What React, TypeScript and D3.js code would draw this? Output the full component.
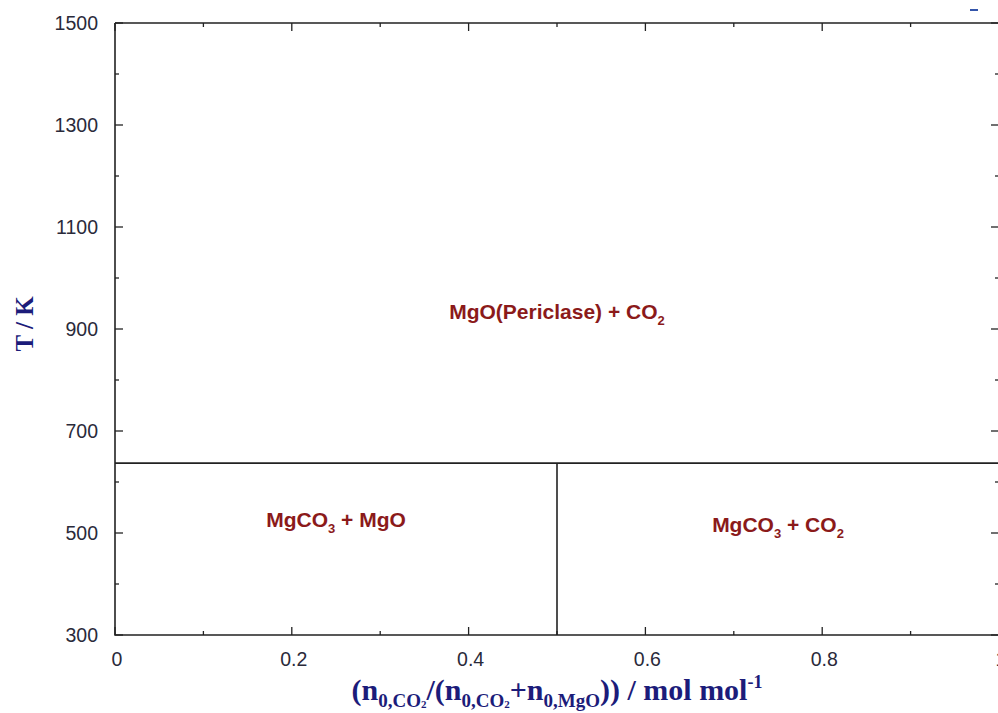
import React, { useEffect, useRef } from "react";
import * as d3 from "d3";

// phase boundaries
const xDomain = [0, 1];
const yDomain = [300, 1500];
const xMajor = [0, 0.2, 0.4, 0.6, 0.8, 1.0];
const xMinor = [0.1, 0.3, 0.5, 0.7, 0.9];
const yMajor = [300, 500, 700, 900, 1100, 1300, 1500];
const yMinor = [400, 600, 800, 1000, 1200, 1400];
const xTickLabels = ["0", "0.2", "0.4", "0.6", "0.8", "1"];
const decompT = 637;
const splitX = 0.5;
const regions = [
  { name: "MgO(Periclase) + CO", sub: "2", tail: "", x: 0.5, t: 934 },
  { name: "MgCO", sub: "3", tail: " + MgO", x: 0.25, t: 527 },
  { name: "MgCO", sub: "3", tail: " + CO", sub2: "2", x: 0.75, t: 516 },
];

export default function App() {
  const ref = useRef<SVGSVGElement | null>(null);

  useEffect(() => {
    const margin = { top: 23, left: 115 };
    const width = 884;
    const height = 612;
    const x = d3.scaleLinear().domain(xDomain).range([0, width]);
    const y = d3.scaleLinear().domain(yDomain).range([height, 0]);

    const svg = d3.select(ref.current);
    svg.selectAll("*").remove();
    const g = svg.append("g").attr("transform", `translate(${margin.left},${margin.top})`);

    // frame
    g.append("path")
      .attr("d", `M0,0 H${width} M0,0 V${height} H${width}`)
      .attr("stroke", "#222")
      .attr("stroke-width", 1.6)
      .attr("fill", "none");

    const tick = (x1: number, y1: number, x2: number, y2: number) =>
      g.append("line").attr("x1", x1).attr("y1", y1).attr("x2", x2).attr("y2", y2)
        .attr("stroke", "#222").attr("stroke-width", 1.3);

    yMajor.forEach(v => { tick(0, y(v), 8, y(v)); tick(width, y(v), width - 8, y(v)); });
    yMinor.forEach(v => { tick(0, y(v), 4, y(v)); tick(width, y(v), width - 4, y(v)); });
    xMajor.forEach(v => { tick(x(v), height, x(v), height - 8); tick(x(v), 0, x(v), 8); });
    xMinor.forEach(v => { tick(x(v), height, x(v), height - 4); tick(x(v), 0, x(v), 4); });

    // tick labels
    g.append("g").selectAll("text").data(yMajor).join("text")
      .attr("x", -17).attr("y", d => y(d)).attr("dy", "0.35em")
      .attr("text-anchor", "end")
      .attr("font-family", "Liberation Sans, Arial, sans-serif")
      .attr("font-size", 19.5).attr("fill", "#2a2a3a")
      .text(d => d);

    g.append("g").selectAll("text").data(xMajor).join("text")
      .attr("x", d => x(d) + 2).attr("y", height + 31)
      .attr("text-anchor", "middle")
      .attr("font-family", "Liberation Sans, Arial, sans-serif")
      .attr("font-size", 19.5).attr("fill", "#2a2a3a")
      .text((d, i) => xTickLabels[i]);

    // phase boundaries
    g.append("line")
      .attr("x1", 0).attr("x2", width).attr("y1", y(decompT)).attr("y2", y(decompT))
      .attr("stroke", "#222").attr("stroke-width", 1.6);
    g.append("line")
      .attr("x1", x(splitX)).attr("x2", x(splitX)).attr("y1", y(decompT)).attr("y2", height)
      .attr("stroke", "#222").attr("stroke-width", 1.6);

    // region labels
    regions.forEach(r => {
      const t = g.append("text")
        .attr("x", x(r.x)).attr("y", y(r.t)).attr("dy", "0.35em")
        .attr("text-anchor", "middle")
        .attr("font-family", "Liberation Sans, Arial, sans-serif")
        .attr("font-weight", "bold").attr("font-size", 21).attr("fill", "#8b1a1a");
      t.append("tspan").text(r.name);
      t.append("tspan").attr("font-size", 13).attr("dy", 6).text(r.sub);
      if (r.tail) t.append("tspan").attr("dy", -6).text(r.tail);
      if (r.sub2) t.append("tspan").attr("font-size", 13).attr("dy", 6).text(r.sub2);
    });

    // axis titles
    svg.append("text")
      .attr("transform", `translate(33,${margin.top + y(910)}) rotate(-90)`)
      .attr("text-anchor", "middle")
      .attr("font-family", "Liberation Serif, Times New Roman, serif")
      .attr("font-weight", "bold").attr("font-size", 25).attr("fill", "#1c1c7a")
      .text("T / K");

    const xt = svg.append("text")
      .attr("x", 557).attr("y", 700)
      .attr("text-anchor", "middle")
      .attr("font-family", "Liberation Serif, Times New Roman, serif")
      .attr("font-weight", "bold").attr("font-size", 30).attr("fill", "#1c1c7a");
    xt.append("tspan").text("(n");
    xt.append("tspan").attr("font-size", 19).attr("dy", 7).text("0,CO");
    xt.append("tspan").attr("font-size", 11).attr("dy", 1).text("2");
    xt.append("tspan").attr("dy", -8).text("/(n");
    xt.append("tspan").attr("font-size", 19).attr("dy", 7).text("0,CO");
    xt.append("tspan").attr("font-size", 11).attr("dy", 1).text("2");
    xt.append("tspan").attr("dy", -8).text("+n");
    xt.append("tspan").attr("font-size", 19).attr("dy", 7).text("0,MgO");
    xt.append("tspan").attr("dy", -7).text(")) / mol mol");
    xt.append("tspan").attr("font-size", 18).attr("dy", -12).text("-1");

    // small mark in the top right corner
    svg.append("line")
      .attr("x1", 970).attr("x2", 978).attr("y1", 10).attr("y2", 10)
      .attr("stroke", "#3355aa").attr("stroke-width", 2);
  }, []);

  return (
    <svg
      ref={ref}
      width={998}
      height={713}
      style={{ position: "absolute", left: 0, top: 0, background: "#fff" }}
    />
  );
}
